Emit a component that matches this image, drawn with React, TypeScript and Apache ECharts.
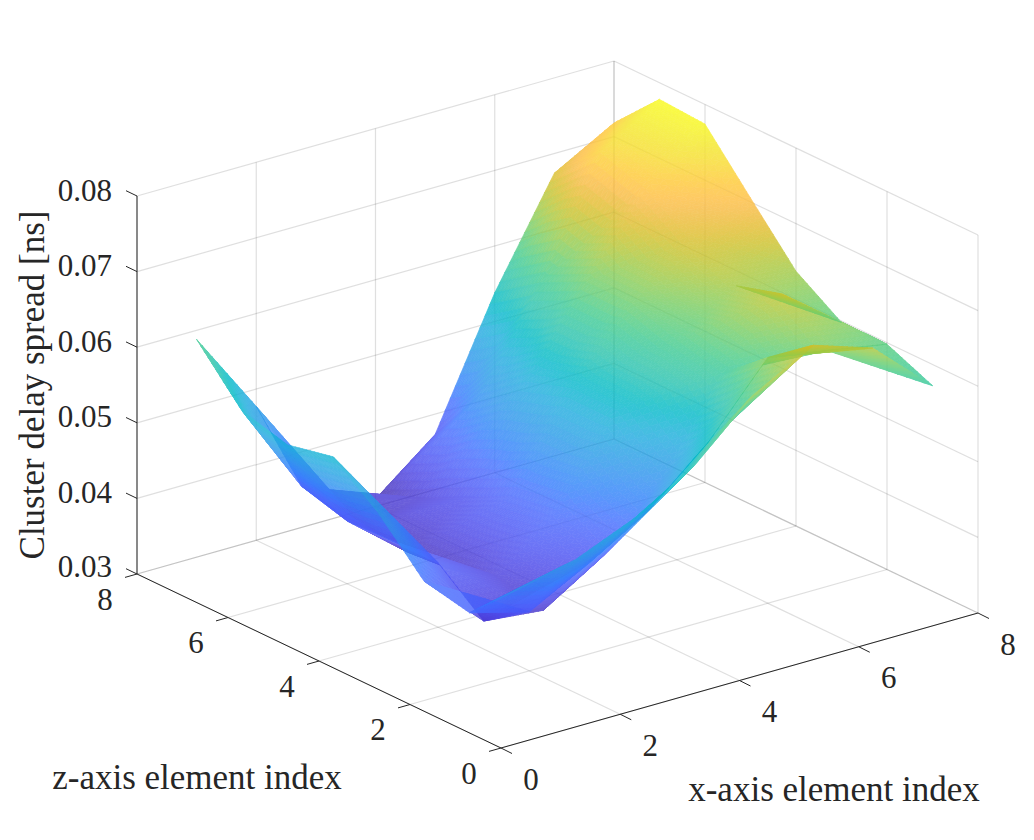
import React, { useEffect, useRef } from "react";
import * as echarts from "echarts";

const W = 1034;
const H = 840;

const xIndex = [1, 2, 3, 4, 5, 6, 7, 8];
const zIndex = [1, 2, 3, 4, 5, 6, 7, 8];
const rowZ1 = [0.0457, 0.0475, 0.0508, 0.0555, 0.0627, 0.067, 0.0644, 0.0572];
const rowZ2 = [0.0399, 0.0378, 0.042, 0.0467, 0.0535, 0.0625, 0.0612, 0.0598];
const rowZ3 = [0.0412, 0.0337, 0.0329, 0.0378, 0.046, 0.0575, 0.0658, 0.0598];
const rowZ4 = [0.0473, 0.0385, 0.0345, 0.041, 0.052, 0.059, 0.064, 0.0637];
const rowZ5 = [0.0519, 0.0385, 0.0325, 0.04, 0.052, 0.061, 0.067, 0.0705];
const rowZ6 = [0.0506, 0.0383, 0.032, 0.037, 0.05, 0.061, 0.071, 0.0774];
const rowZ7 = [0.0522, 0.04, 0.0325, 0.034, 0.0455, 0.058, 0.073, 0.0778];
const rowZ8 = [0.0588, 0.0477, 0.0346, 0.031, 0.0373, 0.0538, 0.0674, 0.0718];
const rows = [rowZ1, rowZ2, rowZ3, rowZ4, rowZ5, rowZ6, rowZ7, rowZ8];

const xTicks = [0, 2, 4, 6, 8];
const zTicks = [0, 2, 4, 6, 8];
const vTicks = [0.03, 0.04, 0.05, 0.06, 0.07, 0.08];
const vTickLabels = ["0.03", "0.04", "0.05", "0.06", "0.07", "0.08"];
const xTitle = "x-axis element index";
const zTitle = "z-axis element index";
const vTitle = "Cluster delay spread [ns]";

const parula = [
  [0.2422, 0.1504, 0.6603], [0.2504, 0.165, 0.7076], [0.2578, 0.1818, 0.7511], [0.2647, 0.1978, 0.7952],
  [0.2706, 0.2147, 0.8364], [0.2751, 0.2342, 0.871], [0.2783, 0.2559, 0.8991], [0.2803, 0.2782, 0.9221],
  [0.2813, 0.3006, 0.9414], [0.281, 0.3228, 0.9579], [0.2795, 0.3447, 0.9717], [0.276, 0.3667, 0.9829],
  [0.2699, 0.3892, 0.9906], [0.2602, 0.4123, 0.9952], [0.244, 0.4358, 0.9988], [0.2206, 0.4603, 0.9973],
  [0.1963, 0.4847, 0.9892], [0.1834, 0.5074, 0.9798], [0.1786, 0.5289, 0.9682], [0.1764, 0.5499, 0.952],
  [0.1687, 0.5703, 0.9359], [0.154, 0.5902, 0.9218], [0.146, 0.6091, 0.9079], [0.138, 0.6276, 0.8973],
  [0.1248, 0.6459, 0.8883], [0.1113, 0.6635, 0.8763], [0.0952, 0.6798, 0.8598], [0.0689, 0.6948, 0.8394],
  [0.0297, 0.7082, 0.8163], [0.0036, 0.7203, 0.7917], [0.0067, 0.7312, 0.766], [0.0433, 0.7411, 0.7394],
  [0.0964, 0.75, 0.712], [0.1408, 0.7584, 0.6842], [0.1717, 0.767, 0.6554], [0.1938, 0.7758, 0.6251],
  [0.2161, 0.7843, 0.5923], [0.247, 0.7918, 0.5567], [0.2906, 0.7973, 0.5188], [0.3406, 0.8008, 0.4789],
  [0.3909, 0.8029, 0.4354], [0.4456, 0.8024, 0.3909], [0.5044, 0.7993, 0.348], [0.5616, 0.7942, 0.3045],
  [0.6174, 0.7876, 0.2612], [0.672, 0.7793, 0.2227], [0.7242, 0.7698, 0.191], [0.7738, 0.7598, 0.1646],
  [0.8203, 0.7498, 0.1535], [0.8634, 0.7406, 0.1596], [0.9035, 0.733, 0.1774], [0.9393, 0.7288, 0.21],
  [0.9728, 0.7298, 0.2394], [0.9956, 0.7434, 0.2371], [0.997, 0.7659, 0.2199], [0.9952, 0.7861, 0.199],
  [0.9892, 0.8136, 0.1885], [0.9786, 0.8422, 0.1778], [0.9676, 0.8696, 0.165], [0.961, 0.889, 0.1537],
  [0.9597, 0.9135, 0.1423], [0.9628, 0.9373, 0.1265], [0.9691, 0.9606, 0.1064], [0.9769, 0.9839, 0.0805],
];

// view: orthographic projection of the MATLAB box
const O = [501, 748];
const EX = [477 / 8, -135 / 8];
const EZ = [-364 / 8, -174 / 8];
const EV = -378 / 0.05;
const project = (x: number, z: number, v: number) => [
  O[0] + EX[0] * x + EZ[0] * z,
  O[1] + EX[1] * x + EZ[1] * z + EV * (v - 0.03),
];

const allValues = rows.flat();
const vMin = Math.min(...allValues);
const vMax = Math.max(...allValues);
const colorOf = (v: number) => {
  const t = Math.max(0, Math.min(1, (v - vMin) / (vMax - vMin))) * (parula.length - 1);
  const i = Math.min(parula.length - 2, Math.floor(t));
  const f = t - i;
  const c = parula[i].map((a, k) => Math.round(255 * (a + (parula[i + 1][k] - a) * f)));
  return `rgb(${c[0]},${c[1]},${c[2]})`;
};

const SUB = 12;
type Tri = { pts: number[][]; c: string; depth: number };
// a cell is two triangles split along its anti-diagonal; each is cut into small ones so the colour can follow the map
function cellTriangles(i: number, j: number, lower: boolean): Tri[] {
  const a = rows[j][i];
  const b = rows[j][i + 1];
  const c = rows[j + 1][i + 1];
  const d = rows[j + 1][i];
  const h = (u: number, w: number) =>
    lower ? a + (b - a) * u + (d - a) * w : c + (d - c) * (1 - u) + (b - c) * (1 - w);
  const out: Tri[] = [];
  const P = (u: number, w: number) => project(xIndex[i] + u, zIndex[j] + w, h(u, w));
  for (let m = 0; m < SUB; m++) {
    for (let n = 0; n < SUB; n++) {
      const u0 = m / SUB, u1 = (m + 1) / SUB, w0 = n / SUB, w1 = (n + 1) / SUB;
      const tris = [
        [[u0, w0], [u1, w0], [u0, w1]],
        [[u1, w0], [u1, w1], [u0, w1]],
      ];
      for (const t of tris) {
        const cu = (t[0][0] + t[1][0] + t[2][0]) / 3;
        const cw = (t[0][1] + t[1][1] + t[2][1]) / 3;
        if (cu + cw <= 1 !== lower) continue;
        out.push({
          pts: t.map((q) => P(q[0], q[1])),
          c: colorOf(h(cu, cw)),
          depth: xIndex[i] + cu + zIndex[j] + cw,
        });
      }
    }
  }
  return out;
}

const sliver = (i: number, j: number, lower: boolean) =>
  lower && ((i === 5 && j === 0) || (i === 6 && j === 2));
const layers: ((i: number, j: number, lower: boolean) => boolean)[] = [
  (i, j, l) => i > 0 && j > 0 && !sliver(i, j, l),
  (i, j) => i === 0 && j > 0,
  (i, j, l) => j === 0 && !sliver(i, j, l),
  sliver,
];

function surfaceOption(pred: (i: number, j: number, lower: boolean) => boolean) {
  const tris: Tri[] = [];
  for (let j = 0; j < 7; j++)
    for (let i = 0; i < 7; i++)
      for (const l of [false, true]) if (pred(i, j, l)) tris.push(...cellTriangles(i, j, l));
  tris.sort((p, q) => q.depth - p.depth);
  return {
    animation: false,
    grid: { left: 0, right: 0, top: 0, bottom: 0 },
    xAxis: { type: "value", min: 0, max: W, show: false },
    yAxis: { type: "value", min: 0, max: H, inverse: true, show: false },
    series: [
      {
        type: "custom",
        silent: true,
        clip: false,
        large: false,
        progressive: 0,
        data: tris.map((_, k) => [k]),
        renderItem: (params: any, api: any) => {
          const t = tris[params.dataIndex];
          return {
            type: "polygon",
            shape: { points: t.pts.map((p) => api.coord(p)) },
            style: { fill: t.c, stroke: t.c, lineWidth: 0.7 },
          };
        },
      },
    ],
  };
}

const INK = "#262626";
const FONT = '31px "Liberation Serif"';
const TITLE_FONT = '35px "Liberation Serif"';
type Seg = { a: number[]; b: number[]; c: string; w: number };
type Lab = { p: number[]; s: string; align: string; rot?: number; font: string };

function baseOption() {
  const segs: Seg[] = [];
  const grid = "rgba(38,38,38,0.15)";
  const seg = (a: number[], b: number[], c = grid, w = 1.2) => segs.push({ a, b, c, w });
  const v0 = vTicks[0];
  const v1 = vTicks[vTicks.length - 1];
  for (const x of xTicks) {
    seg(project(x, 0, v0), project(x, 8, v0));
    seg(project(x, 8, v0), project(x, 8, v1));
  }
  for (const z of zTicks) {
    seg(project(0, z, v0), project(8, z, v0));
    seg(project(8, z, v0), project(8, z, v1));
  }
  for (const v of vTicks) {
    seg(project(0, 8, v), project(8, 8, v));
    seg(project(8, 8, v), project(8, 0, v));
  }
  seg(project(0, 0, v0), project(8, 0, v0), INK, 1);
  seg(project(0, 0, v0), project(0, 8, v0), INK, 1);
  seg(project(0, 8, v0), project(0, 8, v1), INK, 1);
  const labs: Lab[] = [];
  for (const x of xTicks) {
    const p = project(x, 0, v0);
    seg(p, [p[0] + 11, p[1] + 5.5], INK, 1);
    labs.push({ p: [p[0] + 30, p[1] + 31], s: String(x), align: "center", font: FONT });
  }
  for (const z of zTicks) {
    const p = project(0, z, v0);
    seg(p, [p[0] - 12, p[1] + 3.4], INK, 1);
    labs.push({ p: [p[0] - 32, p[1] + 25], s: String(z), align: "center", font: FONT });
  }
  vTicks.forEach((v, k) => {
    const p = project(0, 8, v);
    seg(p, [p[0] - 11, p[1] - 5.3], INK, 1);
    labs.push({ p: [112, p[1] - (k === 0 ? 8 : 6)], s: vTickLabels[k], align: "right", font: FONT });
  });
  labs.push({ p: [834, 789], s: xTitle, align: "center", font: TITLE_FONT });
  labs.push({ p: [197, 777], s: zTitle, align: "center", font: TITLE_FONT });
  labs.push({ p: [32, 385], s: vTitle, align: "center", rot: Math.PI / 2, font: TITLE_FONT });
  return {
    animation: false,
    backgroundColor: "#ffffff",
    grid: { left: 0, right: 0, top: 0, bottom: 0 },
    xAxis: { type: "value", min: 0, max: W, show: false },
    yAxis: { type: "value", min: 0, max: H, inverse: true, show: false },
    series: [
      {
        type: "custom",
        silent: true,
        clip: false,
        data: segs.map((_, k) => [k]),
        renderItem: (params: any, api: any) => {
          const s = segs[params.dataIndex];
          const a = api.coord(s.a);
          const b = api.coord(s.b);
          return {
            type: "line",
            shape: { x1: a[0], y1: a[1], x2: b[0], y2: b[1] },
            style: { stroke: s.c, lineWidth: s.w },
          };
        },
      },
      {
        type: "custom",
        silent: true,
        clip: false,
        data: labs.map((_, k) => [k]),
        renderItem: (params: any, api: any) => {
          const l = labs[params.dataIndex];
          const p = api.coord(l.p);
          return {
            type: "text",
            x: p[0],
            y: p[1],
            rotation: l.rot || 0,
            style: { text: l.s, font: l.font, fill: INK, align: l.align, verticalAlign: "middle" },
          };
        },
      },
    ],
  };
}

export default function App() {
  const baseRef = useRef<HTMLDivElement>(null);
  const layerRefs = useRef<(HTMLDivElement | null)[]>([]);
  useEffect(() => {
    const charts: echarts.ECharts[] = [];
    const base = echarts.init(baseRef.current!, undefined, { renderer: "svg" });
    base.setOption(baseOption() as any);
    charts.push(base);
    layers.forEach((pred, k) => {
      const ch = echarts.init(layerRefs.current[k]!, undefined, { renderer: "svg" });
      ch.setOption(surfaceOption(pred) as any);
      charts.push(ch);
    });
    return () => charts.forEach((c) => c.dispose());
  }, []);
  const box: React.CSSProperties = { position: "absolute", left: 0, top: 0, width: W, height: H };
  return (
    <div style={{ position: "absolute", left: 0, top: 0, width: W, height: H, overflow: "hidden" }}>
      <div ref={baseRef} style={box} />
      {layers.map((_, k) => (
        <div
          key={k}
          ref={(el) => {
            layerRefs.current[k] = el;
          }}
          style={{ ...box, opacity: 0.8, pointerEvents: "none" }}
        />
      ))}
    </div>
  );
}
